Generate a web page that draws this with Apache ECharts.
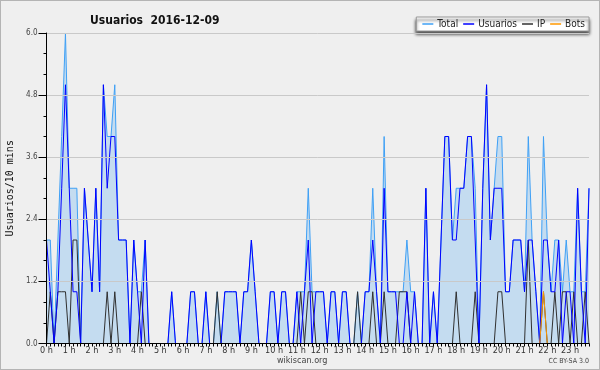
<!DOCTYPE html>
<html><head><meta charset="utf-8">
<script src="https://cdn.jsdelivr.net/npm/echarts@6/dist/echarts.min.js"></script>
<style>html,body{margin:0;padding:0;background:#efefef}#c{width:600px;height:370px;box-sizing:border-box;border:1px solid #b4b4b4;}</style>
</head><body><div id="c"></div>
<script>
// 144 ten-minute slots, 0 h .. 23 h 50
const hourLabels = ['0 h','1 h','2 h','3 h','4 h','5 h','6 h','7 h','8 h','9 h','10 h','11 h','12 h','13 h','14 h','15 h','16 h','17 h','18 h','19 h','20 h','21 h','22 h','23 h'];
const yTicks = [0, 1.2, 2.4, 3.6, 4.8, 6.0];
const total = [2,2,0,2,4,6,3,3,3,0, 3,2,1,3,1,5,4,4,5,2, 2,2,0,2,1,1,2,0,0,0, 0,0,0,1,0,0,0,0,1,1, 0,0,1,0,0,1,0,1,1,1, 1,0,1,1,2,1,0,0,0,1, 1,0,1,1,0,0,1,1,1,3, 1,1,1,1,0,1,1,0,1,1, 0,0,1,0,1,1,3,1,0,4, 1,1,1,1,1,2,1,1,0,0, 3,0,1,0,2,4,4,2,3,3, 3,4,4,3,0,3,5,2,3,4, 4,1,1,2,2,2,1,4,2,1, 0,4,2,1,2,2,1,2,1,1, 3,1,1,3];
const usuarios = [2,1,0,1,3,5,3,1,1,0, 3,2,1,3,1,5,3,4,4,2, 2,2,0,2,1,0,2,0,0,0, 0,0,0,1,0,0,0,0,1,1, 0,0,1,0,0,0,0,1,1,1, 1,0,1,1,2,1,0,0,0,1, 1,0,1,1,0,0,1,0,1,2, 0,1,1,1,0,1,1,0,1,1, 0,0,0,0,1,1,2,1,0,3, 1,1,1,0,0,1,0,1,0,0, 3,0,1,0,2,4,4,2,2,3, 3,4,4,2,0,3,5,2,3,3, 3,1,1,2,2,2,1,2,2,1, 0,2,2,1,1,2,0,1,1,0, 3,1,0,3];
const ip = [0,1,0,1,1,1,0,2,2,0, 0,0,0,0,0,0,1,0,1,0, 0,0,0,0,0,1,0,0,0,0, 0,0,0,0,0,0,0,0,0,0, 0,0,0,0,0,1,0,0,0,0, 0,0,0,0,0,0,0,0,0,0, 0,0,0,0,0,0,0,1,0,1, 1,0,0,0,0,0,0,0,0,0, 0,0,1,0,0,0,1,0,0,1, 0,0,0,1,1,1,0,0,0,0, 0,0,0,0,0,0,0,0,1,0, 0,0,0,1,0,0,0,0,0,1, 1,0,0,0,0,0,0,2,0,0, 0,1,0,0,1,0,1,1,0,1, 0,0,1,0];
const bots = [0,0,0,0,0,0,0,0,0,0, 0,0,0,0,0,0,0,0,0,0, 0,0,0,0,0,0,0,0,0,0, 0,0,0,0,0,0,0,0,0,0, 0,0,0,0,0,0,0,0,0,0, 0,0,0,0,0,0,0,0,0,0, 0,0,0,0,0,0,0,0,0,0, 0,0,0,0,0,0,0,0,0,0, 0,0,0,0,0,0,0,0,0,0, 0,0,0,0,0,0,0,0,0,0, 0,0,0,0,0,0,0,0,0,0, 0,0,0,0,0,0,0,0,0,0, 0,0,0,0,0,0,0,0,0,0, 0,1,0,0,0,0,0,0,0,0, 0,0,0,0];

const cats = [];
for (let h = 0; h < 24; h++) for (let m = 0; m < 6; m++) cats.push(m === 0 ? hourLabels[h] : '');

const FONT = '"DejaVu Sans Condensed", "DejaVu Sans", sans-serif';
const chart = echarts.init(document.getElementById('c'), null, {renderer: 'canvas'});
chart.setOption({
  animation: false,
  backgroundColor: '#efefef',
  textStyle: {fontFamily: FONT},
  title: {text: 'Usuarios  2016-12-09', left: 84, top: 9,
    textStyle: {fontFamily: FONT, fontSize: 12, fontWeight: 'bold', color: '#111'}},
  legend: {
    data: ['Total', 'Usuarios', 'IP', 'Bots'],
    right: 10, top: 16, orient: 'horizontal',
    backgroundColor: '#ffffff', borderColor: '#9a9a9a', borderWidth: 1,
    shadowColor: 'rgba(60,60,60,0.9)', shadowBlur: 3, shadowOffsetY: 3,
    padding: [2, 4, 2, 6], itemGap: 5, itemWidth: 11, itemHeight: 1.5,
    icon: 'rect',
    textStyle: {fontFamily: FONT, fontSize: 10, color: '#222', padding: [0,0,0,-1]}
  },
  grid: {left: 45.5, right: 10, top: 32, bottom: 25.5, containLabel: false, outerBoundsMode: 'none'},
  xAxis: {
    type: 'category', data: cats, boundaryGap: false, z: 10,
    axisLine: {lineStyle: {color: '#000', width: 1}},
    axisTick: {show: true, interval: 0, length: 3, lineStyle: {color: '#000'}},
    axisLabel: {interval: 5, fontSize: 9, color: '#333', margin: 3, fontFamily: FONT},
    splitLine: {show: false}
  },
  yAxis: {
    type: 'value', min: yTicks[0], max: yTicks[yTicks.length - 1], interval: 1.2, z: 10,
    name: 'Usuarios/10 mins', nameLocation: 'middle', nameGap: 30, nameRotate: 90,
    nameTextStyle: {fontFamily: '"DejaVu Sans Mono", monospace', fontSize: 10, color: '#111'},
    axisLine: {show: true, lineStyle: {color: '#000', width: 1}},
    axisTick: {show: true, length: 8, lineStyle: {color: '#000'}},
    minorTick: {show: true, splitNumber: 3, length: 3, lineStyle: {color: '#000'}},
    axisLabel: {formatter: v => v.toFixed(1), fontSize: 8, color: '#444', margin: 9, fontFamily: FONT},
    splitLine: {show: true, lineStyle: {color: '#c9c9c9', width: 1}}
  },
  series: [
    {name: 'Total', type: 'line', data: total, symbol: 'none', z: 2,
      lineStyle: {color: '#3fa0f5', width: 1}, itemStyle: {color: '#3fa0f5'},
      areaStyle: {color: '#c4dcf0', opacity: 1}},
    {name: 'Usuarios', type: 'line', data: usuarios, symbol: 'none', z: 4,
      lineStyle: {color: '#0000ff', width: 1}, itemStyle: {color: '#0000ff'}},
    {name: 'IP', type: 'line', data: ip, symbol: 'none', z: 3,
      lineStyle: {color: '#303030', width: 1}, itemStyle: {color: '#303030'}},
    {name: 'Bots', type: 'line', data: bots, symbol: 'none', z: 5,
      lineStyle: {color: '#ff9900', width: 1}, itemStyle: {color: '#ff9900'}}
  ],
  graphic: [
    {type: 'text', left: 276, top: 355, style: {text: 'wikiscan.org', fontFamily: FONT, fontSize: 9, fill: '#444'}},
    {type: 'text', right: 10, top: 357, style: {text: 'CC BY-SA 3.0', fontFamily: FONT, fontSize: 7, fill: '#444'}}
  ]
});
</script></body></html>
